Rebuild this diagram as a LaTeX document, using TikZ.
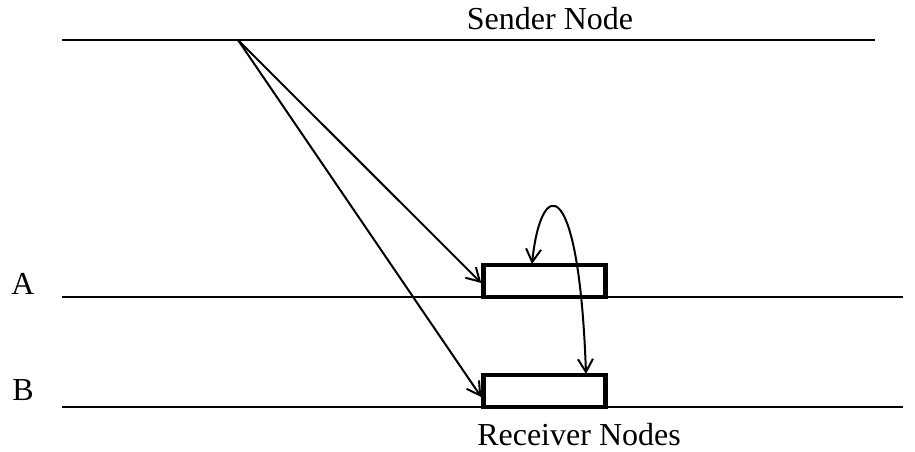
\documentclass[tikz,border=0pt]{standalone}
\usepackage{fontspec}
\setmainfont{Liberation Serif}
\usetikzlibrary{arrows.meta,positioning}

\begin{document}
\begin{tikzpicture}[
    x=1pt,y=-1pt,
    >={Straight Barb[length=13pt,width=15pt,line width=2pt]},
    every node/.style={font=\fontsize{32}{36}\selectfont},
    timeline/.style={line width=1.6pt},
    msg/.style={->,line width=2pt},
    recv/.style={draw,line width=4.5pt,minimum width=122pt,minimum height=32pt,inner sep=0pt}
]

\useasboundingbox (0,0) rectangle (915,451);

% time lines
\coordinate (s0) at (62,40);   \coordinate (s1) at (875,40);
\coordinate (a0) at (62,297);  \coordinate (a1) at (903,297);
\coordinate (b0) at (62,407);  \coordinate (b1) at (903,407);
\draw[timeline] (s0) -- (s1);
\draw[timeline] (a0) -- (a1);
\draw[timeline] (b0) -- (b1);

% labels
\node[anchor=base] (sender)   at (550,29)  {Sender Node};
\node[anchor=base] (receiver) at (579,445) {Receiver Nodes};
\node[anchor=base] (labA)     at (23,294)  {A};
\node[anchor=base] (labB)     at (23,400)  {B};

% receiving windows
\node[recv] (boxA) at (544.5,281) {};
\node[recv] (boxB) at (544.5,391) {};

% send point
\coordinate (send) at (238,40);

% messages
\draw[msg] (send) -- ([yshift=-2pt]boxA.west);
\draw[msg] (send) -- ([yshift=-6pt]boxB.west);

% forward from A to B
\coordinate (fa) at (532,264);
\coordinate (fb) at (586,374);
\draw[msg,<->] (fa) .. controls (541,176) and (579,172) .. (fb);

\end{tikzpicture}
\end{document}
